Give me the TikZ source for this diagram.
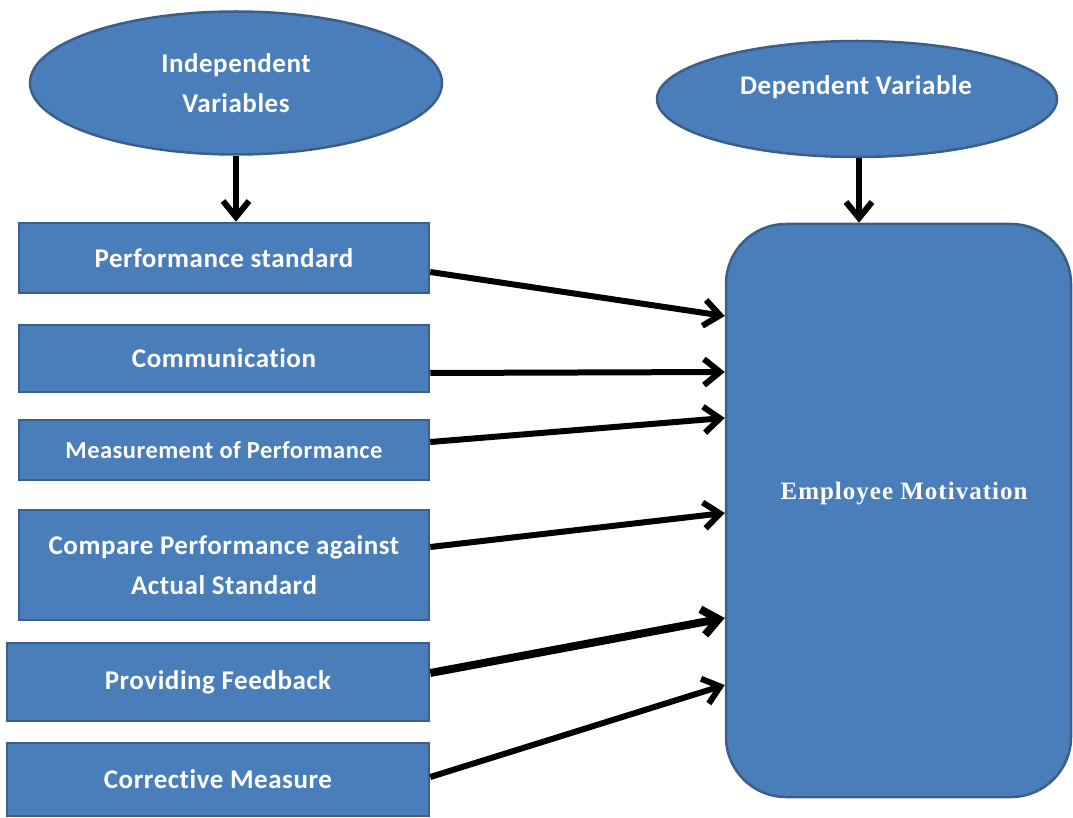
\documentclass[tikz,border=0pt]{standalone}
\usepackage{fontspec}
\setmainfont{Carlito}[Ligatures=NoCommon,LetterSpace=2]
\newfontfamily\serifface{Liberation Serif}[LetterSpace=4]
\usetikzlibrary{shapes.geometric,arrows.meta}
\definecolor{boxfill}{HTML}{4A7EBB}
\definecolor{boxline}{HTML}{3A5F8B}
\begin{document}
\begin{tikzpicture}[x=1pt,y=-1pt,
  varoval/.style={ellipse,draw=boxline,fill=boxfill,line width=2.5pt,inner sep=0pt,
    text=white,font=\fontsize{27}{40}\selectfont\bfseries,align=center},
  factorbox/.style={rectangle,draw=boxline,fill=boxfill,line width=2.5pt,inner sep=0pt,
    text=white,font=\fontsize{27}{40}\selectfont\bfseries,align=center},
  link/.style={line width=6pt,-{Straight Barb[length=16pt,width=26pt]}},
  linkbold/.style={line width=8pt,-{Straight Barb[length=16pt,width=26pt]}}]
\useasboundingbox (0,0) rectangle (1073,818);

% variable ovals
\node[varoval,minimum width=412pt,minimum height=143pt] (ivar) at (236,83)
  {Independent\\Variables};
\node[varoval,minimum width=400pt,minimum height=116pt] (dvar) at (857,99) {};
\node[text=white,font=\fontsize{27}{30}\selectfont\bfseries] (dvarlabel) at (856,87) {Dependent Variable};

% independent factors
\node[factorbox,minimum width=410pt,minimum height=70pt]  (b1) at (224,258)   {Performance standard};
\node[factorbox,minimum width=410pt,minimum height=67pt]  (b2) at (224,358.5) {Communication};
\node[factorbox,minimum width=410pt,minimum height=60pt,
  font=\fontsize{24.5}{30}\selectfont\bfseries]           (b3) at (224,450)   {Measurement of Performance};
\node[factorbox,minimum width=410pt,minimum height=110pt] (b4) at (224,565)   {Compare Performance against\\Actual Standard};
\node[factorbox,minimum width=422pt,minimum height=78pt]  (b5) at (218,682)   {Providing Feedback};
\node[factorbox,minimum width=422pt,minimum height=73pt]  (b6) at (218,779.5) {Corrective Measure};

% dependent outcome
\node[rectangle,rounded corners=60pt,draw=boxline,fill=boxfill,line width=2.5pt,
  minimum width=345pt,minimum height=573pt,inner sep=0pt] (em) at (898.5,510.5) {};
\node[text=white,font=\serifface\bfseries\fontsize{25}{30}\selectfont] (emlabel) at (904,494) {Employee Motivation};

% connectors
\draw[link] (ivar.south) -- (ivar.south |- b1.north);
\draw[link] ([xshift=2pt]dvar.south) -- ([xshift=2pt]dvar.south |- em.north);
\draw[link] ([yshift=-14pt]b1.east) -- ([yshift=194.5pt]em.west);
\draw[link] ([yshift=-14.5pt]b2.east) -- ([yshift=138.5pt]em.west);
\draw[link] ([yshift=8pt]b3.east) -- ([yshift=92.5pt]em.west);
\draw[link] ([yshift=18pt]b4.east) -- ([yshift=-2.5pt]em.west);
\draw[linkbold] ([yshift=9pt]b5.east) -- ([yshift=-107.5pt]em.west);
\draw[link] ([yshift=2.5pt]b6.east) -- ([yshift=-174.5pt]em.west);
\end{tikzpicture}
\end{document}
